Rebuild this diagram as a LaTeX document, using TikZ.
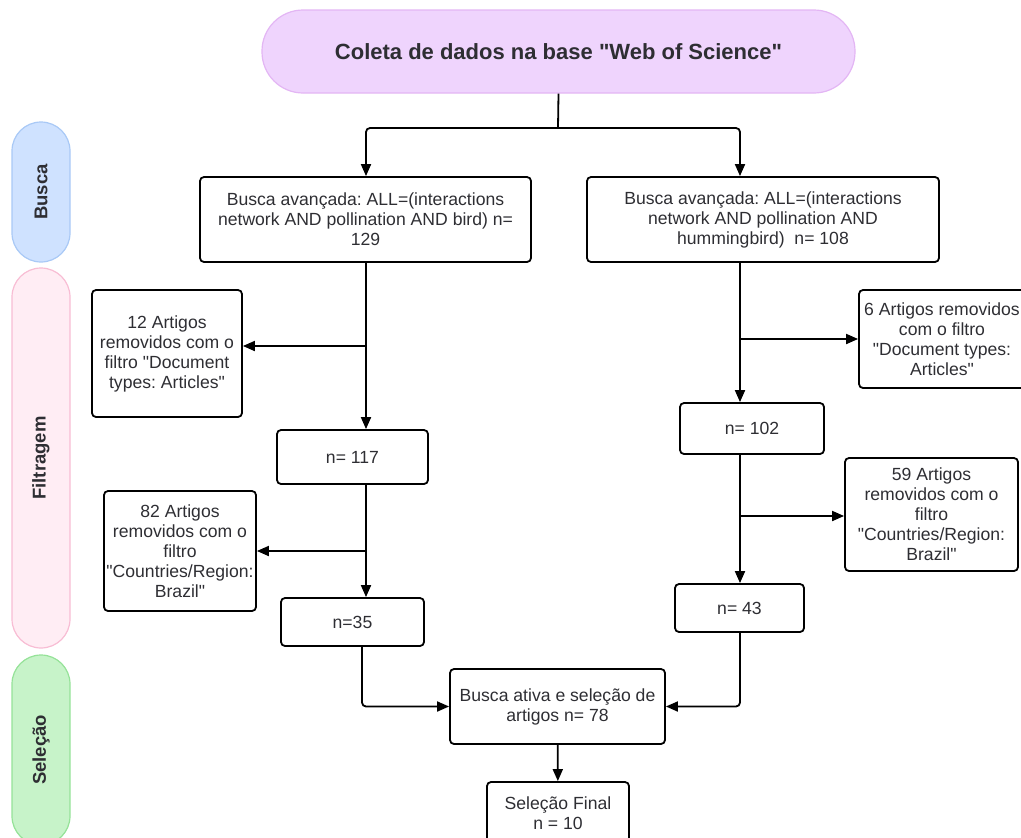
\documentclass[tikz,border=0pt]{standalone}
\usepackage{fontspec}
\setmainfont{Liberation Sans}[Ligatures=TeXOff]
\usetikzlibrary{positioning,arrows.meta,calc}
\definecolor{lilac}{HTML}{EFD4FD}
\definecolor{lilacline}{HTML}{E3B6F4}
\definecolor{sky}{HTML}{CFE2FF}
\definecolor{skyline}{HTML}{A9C9F6}
\definecolor{blush}{HTML}{FFEDF4}
\definecolor{blushline}{HTML}{F8BDD4}
\definecolor{mint}{HTML}{C7F3C9}
\definecolor{mintline}{HTML}{95E298}
\definecolor{ink}{HTML}{2E2E33}
\frenchspacing

\begin{document}
\begin{tikzpicture}[x=1pt,y=-1pt,>={Triangle[length=12pt,width=10pt]},
    box/.style={draw,line width=1.8pt,rounded corners=4pt,align=center,text=ink,font=\fontsize{17.6}{20}\selectfont,inner sep=2pt},
    phase/.style={draw,rotate=90,rounded corners=29pt,line width=1.2pt,minimum height=58pt,text=ink,font=\bfseries\fontsize{18.5}{22}\selectfont},
    flow/.style={->,line width=1.8pt,rounded corners=4pt}]
    \useasboundingbox (0,0) rectangle (1021,838);
    % phases on the left
    \node[phase,draw=skyline,fill=sky,minimum width=140pt] (busca) at (41,192) {Busca};
    \node[phase,draw=blushline,fill=blush,minimum width=380pt] (filtragem) at (41,458) {Filtragem};
    \node[phase,draw=mintline,fill=mint,minimum width=190pt] (selecao) at (41,750) {Seleção};
    % top
    \node[draw=lilacline,fill=lilac,rounded corners=41pt,line width=1.2pt,minimum width=593pt,minimum height=83pt,text=ink,font=\bfseries\fontsize{22}{25}\selectfont] (coleta) at (558.5,51.5) {Coleta de dados na base "Web of Science"};
    % left branch
    \node[box,minimum width=331pt,minimum height=85pt] (buscaA) at (365.5,219.5)
        {Busca avançada: ALL=(interactions\\network AND pollination AND bird) n=\\129};
    \node[box,minimum width=150pt,minimum height=127pt] (art12) at (167,353.5)
        {12 Artigos\\removidos com o\\filtro "Document\\types: Articles"};
    \node[box,minimum width=151pt,minimum height=54pt] (n117) at (352.5,457) {n= 117};
    \node[box,minimum width=152pt,minimum height=120pt] (art82) at (180,551)
        {82 Artigos\\removidos com o\\filtro\\"Countries/Region:\\Brazil"};
    \node[box,minimum width=143pt,minimum height=48pt] (n35) at (352.5,622) {n=35};
    % right branch
    \node[box,minimum width=352pt,minimum height=85pt] (buscaB) at (763,219.5)
        {Busca avançada: ALL=(interactions\\network AND pollination AND\\hummingbird)\ \ n= 108};
    \node[box,minimum width=166pt,minimum height=98pt] (art6) at (942,339)
        {6 Artigos removidos\\com o filtro\\"Document types:\\Articles"};
    \node[box,minimum width=144pt,minimum height=51pt] (n102) at (752,428.5) {n= 102};
    \node[box,minimum width=173pt,minimum height=113pt] (art59) at (931.5,514.5)
        {59 Artigos\\removidos com o\\filtro\\"Countries/Region:\\Brazil"};
    \node[box,minimum width=129pt,minimum height=48pt] (n43) at (739.5,608) {n= 43};
    % selection
    \node[box,minimum width=215pt,minimum height=75pt] (ativa) at (557.5,706.5)
        {Busca ativa e seleção de\\artigos n= 78};
    \node[box,minimum width=142pt,minimum height=62pt] (final) at (558,813)
        {Seleção Final\\n = 10};

    \coordinate (split) at (558,128);
    \coordinate (lcol) at (366,0);
    \coordinate (rcol) at (740,0);
    \draw[line width=1.8pt] (coleta.south) -- (split);
    \draw[flow] (split) -| (lcol |- buscaA.north);
    \draw[flow] (split) -| (rcol |- buscaB.north);
    \draw[flow] (lcol |- buscaA.south) -- (lcol |- n117.north);
    \draw[flow] (lcol |- 0,346) -- (art12.east |- 0,346);
    \draw[flow] (lcol |- n117.south) -- (lcol |- n35.north);
    \draw[flow] (lcol |- art82.east) -- (art82.east);
    \draw[flow] ([xshift=9.5pt]n35.south) |- (ativa.west);
    \draw[flow] (rcol |- buscaB.south) -- (rcol |- n102.north);
    \draw[flow] (rcol |- art6.west) -- (art6.west);
    \draw[flow] (rcol |- n102.south) -- (rcol |- n43.north);
    \draw[flow] (rcol |- 0,516) -- (art59.west |- 0,516);
    \draw[flow] (rcol |- n43.south) |- (ativa.east);
    \draw[flow] (ativa) -- (final);
\end{tikzpicture}
\end{document}
